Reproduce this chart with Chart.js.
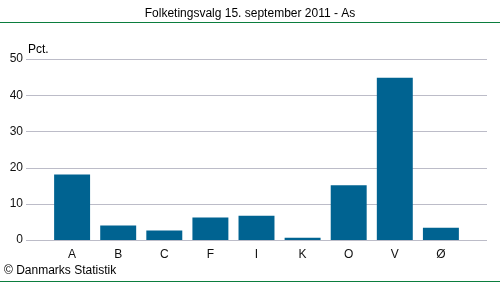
<!DOCTYPE html>
<html>
<head>
<meta charset="utf-8">
<script src="https://cdn.jsdelivr.net/npm/chart.js@4/dist/chart.umd.min.js"></script>
<style>
  html, body { margin: 0; padding: 0; background: #fff; }
  #wrap { width: 500px; height: 282px; position: relative; }
</style>
</head>
<body>
<div id="wrap"><canvas id="chart"></canvas></div>
<script>
// parties (blank slots at the ends to get the original spacing)
const partier = ['', 'A', 'B', 'C', 'F', 'I', 'K', 'O', 'V', 'Ø', ''];
const pct = [null, 18.1, 4.0, 2.6, 6.2, 6.7, 0.6, 15.1, 44.8, 3.4, null];
const yTicks = [0, 10, 20, 30, 40, 50];

const titel = 'Folketingsvalg 15. september 2011 - As';
const kilde = '© Danmarks Statistik';
const font = 'Liberation Sans';

// horizontal grid lines, kept inside the plot area
const grid = {
  id: 'grid',
  beforeDatasetsDraw(chart) {
    const ctx = chart.ctx;
    const area = chart.chartArea;
    const y = chart.scales.y;
    ctx.save();
    ctx.strokeStyle = '#bcbcc8';
    ctx.lineWidth = 1;
    ctx.beginPath();
    yTicks.forEach(v => {
      const py = Math.round(y.getPixelForValue(v)) + 0.5;
      ctx.moveTo(area.left, py);
      ctx.lineTo(area.right, py);
    });
    ctx.stroke();
    ctx.restore();
  }
};

const extras = {
  id: 'extras',
  afterDraw(chart) {
    const ctx = chart.ctx;
    ctx.save();
    ctx.fillStyle = '#000';
    ctx.font = '12px "' + font + '"';
    ctx.textAlign = 'center';
    ctx.textBaseline = 'middle';
    ctx.fillText(titel, 250, 14);
    ctx.textAlign = 'left';
    ctx.fillText('Pct.', 28, 50);
    ctx.fillText(kilde, 4, 271);
    // green rules
    ctx.strokeStyle = '#0b7d3e';
    ctx.lineWidth = 1;
    ctx.beginPath();
    ctx.moveTo(0, 22.5); ctx.lineTo(500, 22.5);
    ctx.moveTo(0, 281.5); ctx.lineTo(500, 281.5);
    ctx.stroke();
    ctx.restore();
  }
};

new Chart(document.getElementById('chart'), {
  type: 'bar',
  data: {
    labels: partier,
    datasets: [{
      data: pct,
      backgroundColor: '#006391',
      barPercentage: 0.78,
      categoryPercentage: 1
    }]
  },
  options: {
    responsive: true,
    maintainAspectRatio: false,
    animation: false,
    layout: { padding: { top: 59, right: 13, bottom: 12, left: 0 } },
    plugins: { legend: { display: false }, tooltip: { enabled: false }, title: { display: false } },
    scales: {
      x: {
        offset: false,
        grid: { display: false, drawTicks: false },
        border: { display: false },
        ticks: { color: '#111', font: { family: font, size: 12 }, padding: 7, maxRotation: 0, autoSkip: false },
        afterFit(s) { s.height = 30; }
      },
      y: {
        min: 0,
        max: 50,
        afterBuildTicks(s) { s.ticks = yTicks.map(v => ({ value: v })); },
        grid: { display: false, drawTicks: false },
        border: { display: false },
        ticks: { color: '#111', font: { family: font, size: 12 }, padding: 3 },
        afterFit(s) { s.width = 26; }
      }
    }
  },
  plugins: [grid, extras]
});
</script>
</body>
</html>
